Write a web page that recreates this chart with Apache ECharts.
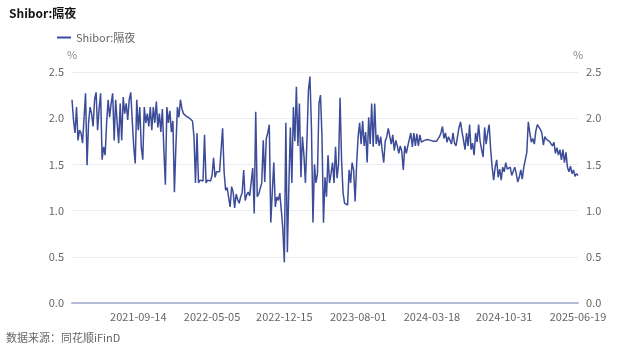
<!DOCTYPE html>
<html>
<head>
<meta charset="utf-8">
<script src="https://cdn.jsdelivr.net/npm/echarts@6/dist/echarts.min.js"></script>
<style>
  html, body { margin: 0; padding: 0; background: #fff; }
  #chart { width: 640px; height: 354px; }
</style>
</head>
<body>
<div id="chart"></div>
<script>
// 横轴刻度标签(最后一个在序列末尾)
const tickLabels = ['2021-09-14', '2022-05-05', '2022-12-15', '2023-08-01', '2024-03-18', '2024-10-31', '2025-06-19']

// Shibor 隔夜 (%)
const shiborON = [
    2.2, 1.98, 1.84, 2.12, 1.76, 1.87, 1.84, 1.73, 2.0, 2.27,
    1.49, 1.95, 2.12, 2.05, 1.91, 2.2, 2.28, 1.87, 2.1, 2.27,
    1.55, 1.69, 1.6, 1.95, 2.2, 2.01, 2.16, 2.27, 1.76, 2.2,
    1.95, 1.73, 2.16, 1.76, 2.23, 2.05, 2.16, 1.98, 2.2, 2.28,
    1.98, 1.69, 1.51, 2.2, 1.87, 2.12, 1.69, 1.55, 2.12, 1.95,
    2.05, 1.91, 2.12, 1.87, 2.12, 1.95, 2.18, 1.9, 2.05, 1.85,
    2.1, 1.66, 1.28, 2.12, 1.95, 2.08, 1.85, 1.97, 1.2, 1.7,
    2.12, 2.01, 2.2, 2.1, 2.05, 2.04, 2.02, 2.0, 2.0, 1.98,
    1.97, 1.8, 1.3, 1.84, 1.3, 1.33, 1.34, 1.32, 1.82, 1.3,
    1.33, 1.35, 1.32, 1.38, 1.57, 1.36, 1.42, 1.43, 1.42, 1.42,
    1.89, 1.42, 1.22, 1.25, 1.24, 1.04, 1.26, 1.2, 1.03, 1.18,
    1.12, 1.08, 1.15, 1.19, 1.44, 1.11, 1.17, 1.2, 1.16, 1.18,
    1.46, 0.97, 2.07, 1.15, 1.18, 1.2, 1.3, 1.76, 1.31, 1.78,
    1.84, 1.93, 0.87, 1.2, 1.52, 1.04, 1.15, 1.11, 1.19, 1.0,
    0.81, 0.44, 1.95, 0.55, 1.26, 1.9, 1.3, 2.12, 1.75, 2.34,
    1.7, 2.16, 1.36, 1.8, 1.6, 1.3, 1.75, 2.3, 2.45, 1.9,
    0.87, 1.5, 1.3, 1.4, 2.16, 2.25, 1.8, 0.87, 1.36, 1.15,
    1.6, 1.3, 1.4, 1.52, 1.3, 1.69, 1.35, 1.5, 2.22, 1.55,
    1.19, 1.08, 1.1, 1.06, 1.44, 1.3, 1.52, 1.44, 1.1, 1.5,
    1.8, 1.95, 1.72, 1.97, 1.7, 1.85, 1.52, 2.01, 1.72, 2.16,
    1.69, 2.16, 1.72, 1.82, 1.7, 1.8, 1.65, 1.52, 1.75, 1.8,
    1.89, 1.87, 1.72, 1.82, 1.65, 1.76, 1.7, 1.62, 1.7, 1.64,
    1.44, 1.7, 1.62, 1.7, 1.72, 1.84, 1.69, 1.84, 1.7, 1.83,
    1.7, 1.82, 1.74, 1.73, 1.76, 1.77, 1.77, 1.76, 1.76, 1.74,
    1.75, 1.73, 1.75, 1.77, 1.8, 1.84, 1.91, 1.78, 1.84, 1.74,
    1.8, 1.76, 1.72, 1.84, 1.73, 1.7, 1.8, 1.9, 1.96, 1.85,
    1.76, 1.66, 1.84, 1.7, 1.93, 1.66, 1.73, 1.6, 1.84, 1.74,
    1.93, 1.75, 1.66, 1.58, 1.9, 1.72, 1.84, 1.93, 1.66, 1.47,
    1.33, 1.47, 1.55, 1.36, 1.45, 1.33, 1.47, 1.42, 1.52, 1.45,
    1.44, 1.47, 1.38, 1.36, 1.47, 1.4, 1.31, 1.36, 1.44, 1.34,
    1.47, 1.55, 1.63, 1.96, 1.84, 1.74, 1.78, 1.72, 1.86, 1.93,
    1.91, 1.88, 1.84, 1.71, 1.8, 1.77, 1.78, 1.75, 1.76, 1.7,
    1.74, 1.62, 1.68, 1.6, 1.66, 1.55, 1.66, 1.52, 1.63, 1.47,
    1.42, 1.48, 1.4, 1.44, 1.37, 1.4, 1.38
]

const yTicks = [0, 0.5, 1.0, 1.5, 2.0, 2.5]

//刻度标签所在的序号 (从末尾往前等距)
const N = shiborON.length
const step = (N - 1) / 6.91
const labelIdx = tickLabels.map((d, k) => Math.round(N - 1 - (tickLabels.length - 1 - k) * step))

//横轴日期: 在刻度日期之间插值
const toTime = (s) => new Date(s + 'T00:00:00Z').getTime()
const fmt = (t) => new Date(t).toISOString().slice(0, 10)
const xDates = shiborON.map((v, i) => {
    let k = labelIdx.findIndex(li => li >= i)
    if (k === -1) k = labelIdx.length - 1
    if (k === 0) k = 1
    const i0 = labelIdx[k - 1], i1 = labelIdx[k]
    const t0 = toTime(tickLabels[k - 1]), t1 = toTime(tickLabels[k])
    return fmt(t0 + (t1 - t0) * (i - i0) / (i1 - i0))
})

const font = '"Noto Sans CJK SC", "Noto Sans", sans-serif'
const mychart = echarts.init(document.getElementById('chart'))

const yAxisBase = {
    type: 'value',
    min: yTicks[0],
    max: yTicks[yTicks.length - 1],
    interval: 0.5,
    name: '%',
    nameGap: 12,
    nameTextStyle: { color: '#888', fontSize: 11, fontFamily: font },
    axisLine: { show: false },
    axisTick: { show: false },
    axisLabel: {
        color: '#666', fontSize: 11, fontFamily: font,
        formatter: (v) => v.toFixed(1)
    },
    splitLine: { lineStyle: { color: '#ebebf3', width: 1 } }
}

const option = {
    animation: false,
    title: {
        text: 'Shibor:隔夜',
        left: 4,
        top: 2,
        textStyle: { fontSize: 12, fontWeight: 'bold', color: '#111', fontFamily: font }
    },
    legend: {
        data: ['Shibor:隔夜'],
        left: 52,
        top: 27,
        itemWidth: 14,
        itemHeight: 2,
        icon: 'rect',
        textStyle: { color: '#666', fontSize: 11, fontFamily: font }
    },
    graphic: [{
        type: 'text',
        left: 6,
        top: 332,
        style: { text: '数据来源：同花顺iFinD', fill: '#666', fontSize: 11, fontFamily: font }
    }],
    grid: {
        left: 72,
        right: 62,
        top: 72,
        bottom: 51
    },
    xAxis: {
        type: 'category',
        boundaryGap: false,
        data: xDates,
        axisLine: { lineStyle: { color: '#b3bad6', width: 2 } },
        axisTick: { show: false },
        axisLabel: {
            color: '#666', fontSize: 11, fontFamily: font, margin: 8,
            interval: (index) => labelIdx.includes(index),
            showMaxLabel: true
        },
        splitLine: { show: false }
    },
    yAxis: [
        Object.assign({}, yAxisBase, { position: 'left' }),
        Object.assign({}, yAxisBase, { position: 'right' })
    ],
    series: [{
        name: 'Shibor:隔夜',
        type: 'line',
        data: shiborON,
        showSymbol: false,
        symbol: 'none',
        lineStyle: { color: '#3d4c99', width: 1.5 },
        itemStyle: { color: '#3d4c99' }
    }]
}
mychart.setOption(option)
</script>
</body>
</html>
